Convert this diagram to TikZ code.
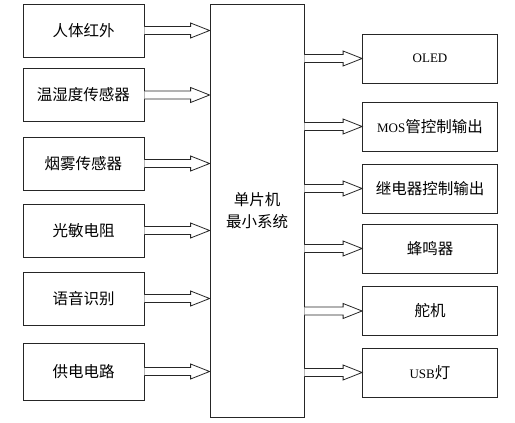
\documentclass[tikz,border=0pt]{standalone}
\usepackage{fontspec}
\setmainfont{Liberation Serif}
\newfontfamily\cjk{Noto Sans CJK SC}
\usetikzlibrary{calc}

\tikzset{
    blk/.style={draw=black!85, line width=0.8pt, fill=white, inner sep=0pt,
        font=\fontsize{15.5}{22}\selectfont\cjk},
    inbox/.style={blk, minimum width=121pt, minimum height=53pt},
    outbox/.style={blk, minimum width=135pt, minimum height=49pt},
    pipe/.style={draw=black!85, line width=0.8pt, fill=white}
}

% hollow block arrow from the first point to the second (same height)
\newcommand{\pipearrow}[2]{%
    \draw[pipe] let \p1=(#1), \p2=(#2) in
        (\x1,\y1+4) -- (\x2-19,\y1+4) -- (\x2-19,\y1+7.5) -- (\x2,\y1)
        -- (\x2-19,\y1-7.5) -- (\x2-19,\y1-4) -- (\x1,\y1-4);}

\newcommand{\latin}[1]{{\rmfamily\fontsize{13}{15}\selectfont #1}}

\begin{document}
\begin{tikzpicture}[x=1pt, y=-1pt]

    \useasboundingbox (0,0) rectangle (515,423);

    % Declare the controller
    \node[blk, minimum width=94pt, minimum height=413pt, align=center] at (257, 210.5) (mcu) {单片机\\最小系统};

    % Declare the inputs
    \node[inbox] at (83.5, 30.5) (pir) {人体红外};
    \node[inbox] at (83.5, 95) (dht) {温湿度传感器};
    \node[inbox] at (83.5, 163.5) (smoke) {烟雾传感器};
    \node[inbox] at (83.5, 230.5) (ldr) {光敏电阻};
    \node[inbox] at (83.5, 298.5) (voice) {语音识别};
    \node[inbox, minimum height=57pt] at (83.5, 371.5) (power) {供电电路};

    % Declare the outputs
    \node[outbox] at (430, 58.5) (oled) {\latin{OLED}};
    \node[outbox] at (430, 126.5) (mos) {\latin{MOS}管控制输出};
    \node[outbox] at (430, 188.5) (relay) {继电器控制输出};
    \node[outbox] at (430, 248.5) (buzz) {蜂鸣器};
    \node[outbox] at (430, 311) (servo) {舵机};
    \node[outbox] at (430, 372.5) (usb) {\latin{USB}灯};

    % Declare input arrows
    \pipearrow{pir.east}{pir.east -| mcu.west}
    \pipearrow{dht.east}{dht.east -| mcu.west}
    \pipearrow{smoke.east}{smoke.east -| mcu.west}
    \pipearrow{ldr.east}{ldr.east -| mcu.west}
    \pipearrow{voice.east}{voice.east -| mcu.west}
    \pipearrow{power.east}{power.east -| mcu.west}

    % Declare output arrows
    \pipearrow{oled.west -| mcu.east}{oled.west}
    \pipearrow{mos.west -| mcu.east}{mos.west}
    \pipearrow{relay.west -| mcu.east}{relay.west}
    \pipearrow{buzz.west -| mcu.east}{buzz.west}
    \pipearrow{servo.west -| mcu.east}{servo.west}
    \pipearrow{usb.west -| mcu.east}{usb.west}

\end{tikzpicture}
\end{document}
